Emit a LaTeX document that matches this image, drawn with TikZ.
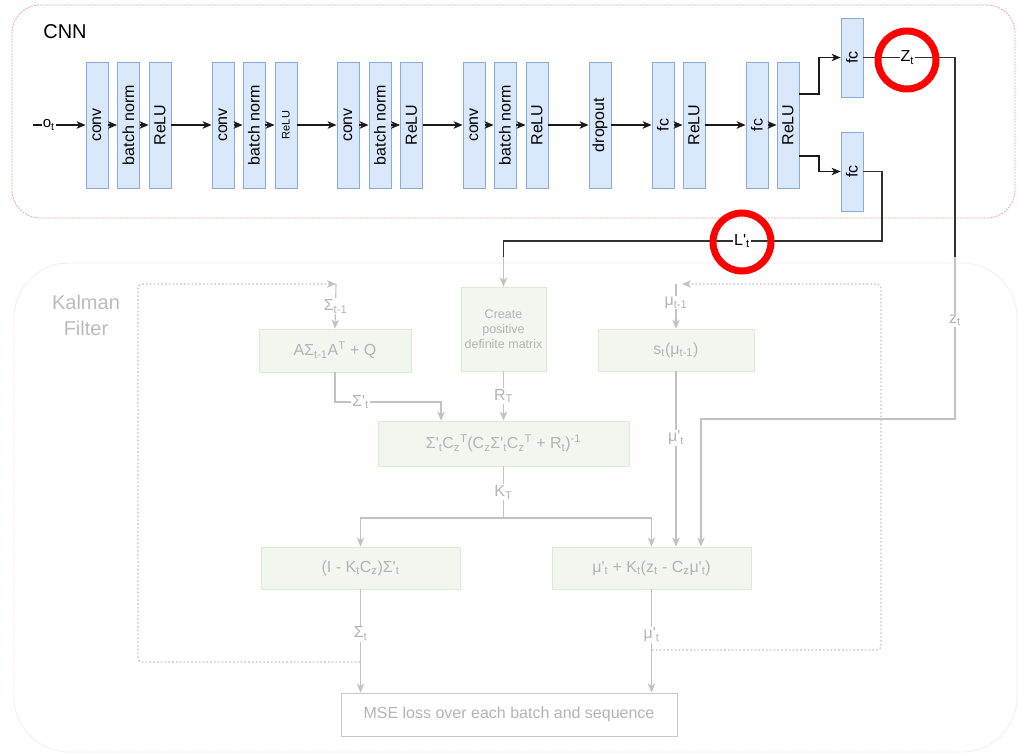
\documentclass[tikz,border=0pt]{standalone}
\usepackage{fontspec}
\setmainfont{Liberation Sans}[Ligatures=TeXOff]
\usetikzlibrary{arrows.meta}
\newcommand{\sbs}[1]{\textsubscript{#1}}
\newcommand{\sps}[1]{\textsuperscript{#1}}
\definecolor{cnnfill}{HTML}{DAE8FC}
\definecolor{cnndraw}{HTML}{8AA8D8}
\definecolor{kfill}{HTML}{F1F7EF}
\definecolor{kdraw}{HTML}{DCEAD6}
\definecolor{ktext}{HTML}{B4B4B4}
\definecolor{kline}{HTML}{C2C2C2}
\definecolor{cframe}{HTML}{EFA8A8}
\definecolor{kframe}{HTML}{F8E0E0}
\definecolor{dark}{HTML}{1A1A1A}
\begin{document}
\begin{tikzpicture}[x=1pt,y=-1pt,
  cnnbox/.style={draw=cnndraw, fill=cnnfill, line width=0.8pt, minimum width=22pt,
    minimum height=126pt, inner sep=0pt, font=\fontsize{16}{19}\selectfont},
  fcbox/.style={cnnbox, minimum height=79pt},
  arr/.style={-{Stealth[length=9pt,width=7.5pt,inset=2.5pt]}, line width=1.1pt, draw=dark},
  dline/.style={line width=1.4pt, draw=dark!90},
  elab/.style={fill=white, inner sep=1pt, font=\fontsize{16}{19}\selectfont},
  kbox/.style={draw=kdraw, fill=kfill, text=ktext, line width=0.8pt, inner sep=0pt,
    font=\fontsize{16}{19}\selectfont},
  karr/.style={-{Stealth[length=9pt,width=7.5pt,inset=2.5pt]}, line width=1.1pt, draw=kline},
  kln/.style={line width=1.1pt, draw=kline},
  klab/.style={fill=white, text=ktext, inner sep=1pt, font=\fontsize{16}{19}\selectfont},
  kdot/.style={draw=kline, line width=1.2pt, dash pattern=on 1.6pt off 2.2pt, rounded corners=4pt},
  annot/.style={draw=red, line width=7pt, circle, minimum size=58pt, inner sep=0pt}
]
\useasboundingbox (0,0) rectangle (1018,754);

% containers
\node[draw=kframe, line width=0.8pt, dash pattern=on 2pt off 1pt, rounded corners=55pt,
  minimum width=1003pt, minimum height=489pt, inner sep=0pt] (kframeN) at (515.5,507.5) {};
\node[draw=cframe, line width=0.8pt, dash pattern=on 2pt off 1pt, rounded corners=28pt,
  minimum width=1003pt, minimum height=213pt, inner sep=0pt] (cframeN) at (513.5,111.5) {};

\node[font=\fontsize{20}{24}\selectfont] (cnnlab) at (65,32) {CNN};
\node[font=\fontsize{20}{26}\selectfont, text=ktext!90, align=center] (kallab) at (86,315) {Kalman\\Filter};

% CNN boxes
\node[cnnbox] (c1) at (97,125) {\rotatebox{90}{conv}};
\node[cnnbox] (b1) at (128.5,125) {\rotatebox{90}{batch norm}};
\node[cnnbox] (r1) at (160,125) {\rotatebox{90}{ReLU}};
\node[cnnbox] (c2) at (223,125) {\rotatebox{90}{conv}};
\node[cnnbox] (b2) at (254,125) {\rotatebox{90}{batch norm}};
\node[cnnbox, font=\fontsize{11}{13}\selectfont] (r2) at (286,125) {\rotatebox{90}{ReLU}};
\node[cnnbox] (c3) at (348,125) {\rotatebox{90}{conv}};
\node[cnnbox] (b3) at (380,125) {\rotatebox{90}{batch norm}};
\node[cnnbox] (r3) at (411.5,125) {\rotatebox{90}{ReLU}};
\node[cnnbox] (c4) at (474,125) {\rotatebox{90}{conv}};
\node[cnnbox] (b4) at (505,125) {\rotatebox{90}{batch norm}};
\node[cnnbox] (r4) at (537,125) {\rotatebox{90}{ReLU}};
\node[cnnbox] (dr) at (600,125) {\rotatebox{90}{dropout}};
\node[cnnbox] (f1) at (663,125) {\rotatebox{90}{fc}};
\node[cnnbox] (r5) at (694,125) {\rotatebox{90}{ReLU}};
\node[cnnbox] (f2) at (757,125) {\rotatebox{90}{fc}};
\node[cnnbox] (r6) at (788,125) {\rotatebox{90}{ReLU}};
\node[fcbox] (fz) at (852,57.5) {\rotatebox{90}{fc}};
\node[fcbox] (fl) at (852,171.5) {\rotatebox{90}{fc}};

\coordinate (inp) at (33,125);
\draw[arr] (inp) -- node[elab, pos=0.3, font=\fontsize{15}{18}\selectfont]{o\sbs{t}} (c1.west);
\draw[arr] (c1) -- (b1);
\draw[arr] (b1) -- (r1);
\draw[arr] (r1) -- (c2);
\draw[arr] (c2) -- (b2);
\draw[arr] (b2) -- (r2);
\draw[arr] (r2) -- (c3);
\draw[arr] (c3) -- (b3);
\draw[arr] (b3) -- (r3);
\draw[arr] (r3) -- (c4);
\draw[arr] (c4) -- (b4);
\draw[arr] (b4) -- (r4);
\draw[arr] (r4) -- (dr);
\draw[arr] (dr) -- (f1);
\draw[arr] (f1) -- (r5);
\draw[arr] (r5) -- (f2);
\draw[arr] (f2) -- (r6);
\draw[arr] ([yshift=31pt]r6.east) -- (819,94) |- (fz.west);
\draw[arr] ([yshift=-31pt]r6.east) -- (819,156) |- (fl.west);

% Kalman boxes
\node[kbox, minimum width=152pt, minimum height=43pt] (kA) at (335,350.5) {AΣ\sbs{t-1}A\sps{T} + Q};
\node[kbox, minimum width=85pt, minimum height=84pt, align=center,
  font=\fontsize{12.5}{15}\selectfont] (kC) at (503.5,329) {Create\\positive\\definite matrix};
\node[kbox, minimum width=156pt, minimum height=42pt] (kS) at (676,350) {s\sbs{t}(μ\sbs{t-1})};
\node[kbox, minimum width=251pt, minimum height=45pt] (kK) at (503.5,443.5)
  {Σ'\sbs{t}C\sbs{z}\sps{T}(C\sbs{z}Σ'\sbs{t}C\sbs{z}\sps{T} + R\sbs{t})\sps{-1}};
\node[kbox, minimum width=199pt, minimum height=42pt] (kI) at (360.5,568) {(I - K\sbs{t}C\sbs{z})Σ'\sbs{t}};
\node[kbox, minimum width=199pt, minimum height=42pt] (kM) at (651.5,568)
  {μ'\sbs{t} + K\sbs{t}(z\sbs{t} - C\sbs{z}μ'\sbs{t})};
\node[draw=kline!90, fill=white, text=ktext, line width=1pt, minimum width=336pt, minimum height=43pt,
  font=\fontsize{16}{19}\selectfont] (mse) at (509,714.5) {MSE loss over each batch and sequence};

% routing coordinates
\coordinate (sigPrev) at (336,284);
\coordinate (muPrev) at (676,284);
\coordinate (sigT) at (360,662);
\coordinate (muT) at (652,650);
\coordinate (bendS) at (441,402);
\coordinate (kbr) at (503.5,518);
\coordinate (fadeZ) at (955,257);
\coordinate (fadeL) at (503.5,257);
\coordinate (zb) at (701,419);

% Kalman connectors
\draw[kdot, -{Stealth[length=9pt,width=7.5pt,inset=2.5pt]}] (sigT) -- (138,662) -- (138,284) -- (sigPrev);
\draw[karr] (sigPrev) -- node[klab]{Σ\sbs{t-1}} (kA.north);
\draw[kdot, -{Stealth[length=9pt,width=7.5pt,inset=2.5pt]}] (muT) -- (881,650) -- (881,284) -- ([xshift=6pt]muPrev);
\draw[karr] (muPrev) -- node[klab, pos=0.42]{μ\sbs{t-1}} (kS.north);
\draw[karr] (kA.south) |- node[klab, pos=0.62]{Σ'\sbs{t}} (bendS) -- (kK.north -| bendS);
\draw[karr] (kC.south) -- node[klab]{R\sbs{T}} (kK.north);
\draw[kln] (kK.south) -- node[klab]{K\sbs{T}} (kbr);
\draw[karr] (kbr) -| (kI.north);
\draw[karr] (kbr) -| (kM.north);
\draw[karr] (kS.south) -- node[klab, pos=0.38]{μ'\sbs{t}} (kM.north -| kS.south);
\draw[karr] (kI.south) -- node[klab, pos=0.43]{Σ\sbs{t}} (kI.south |- mse.north);
\draw[karr] (kM.south) -- node[klab, pos=0.44]{μ'\sbs{t}} (kM.south |- mse.north);

% CNN outputs into Kalman filter
\draw[dline] (fz.east) -- node[elab, pos=0.48]{Z\sbs{t}} (955,57.5) -- (fadeZ);
\draw[karr] (fadeZ) -- node[klab, pos=0.39]{z\sbs{t}} (955,419) -- (zb) -- (kM.north -| zb);
\draw[dline] (fl.east) -- (882,171.5) -- (882,241) -- node[elab, pos=0.37]{L'\sbs{t}} (503.5,241) -- (fadeL);
\draw[karr] (fadeL) -- (kC.north);

% annotation circles
\node[annot] (ann1) at (907,60) {};
\node[annot] (ann2) at (742,242) {};
\end{tikzpicture}
\end{document}
